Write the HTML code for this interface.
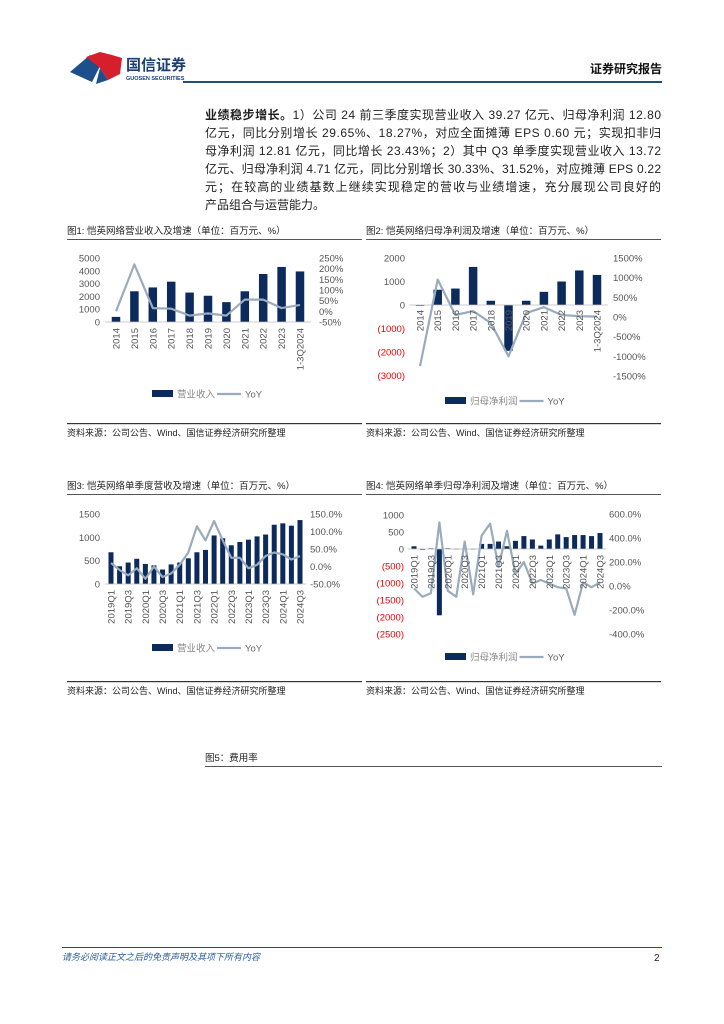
<!DOCTYPE html>
<html><head><meta charset="utf-8">
<style>
html,body{margin:0;padding:0;background:#fff;}
svg{display:block;font-family:"Liberation Sans","Noto Sans CJK SC",sans-serif;}
</style></head>
<body>
<svg id="s" width="724" height="1024" viewBox="0 0 724 1024" xmlns="http://www.w3.org/2000/svg">
<polygon points="70,72 90,55 100,66 92,82" fill="#1c4f8c"/>
<polygon points="86,57 100,52 112,55 122,58 120,74 108,80 100,68" fill="#d61f2c"/>
<polygon points="100,68 108,80 96,84" fill="#1c4f8c"/>
<text x="126" y="70" font-size="15" font-weight="bold" fill="#1c3f73">国信证券</text>
<text x="126" y="80" font-size="5.5" font-weight="bold" fill="#1c3f73">GUOSEN SECURITIES</text>
<text x="662" y="73" font-size="12" font-weight="bold" fill="#111" text-anchor="end">证券研究报告</text>
<rect x="183" y="81" width="479" height="2" fill="#1f4e79"/>
<g font-size="12" fill="#222">
<text x="205" y="119" textLength="456" lengthAdjust="spacing"><tspan font-weight="bold">业绩稳步增长。</tspan>1）公司 24 前三季度实现营业收入 39.27 亿元、归母净利润 12.80</text>
<text x="205" y="137" textLength="456" lengthAdjust="spacing">亿元，同比分别增长 29.65%、18.27%，对应全面摊薄 EPS 0.60 元；实现扣非归</text>
<text x="205" y="155" textLength="456" lengthAdjust="spacing">母净利润 12.81 亿元，同比增长 23.43%；2）其中 Q3 单季度实现营业收入 13.72</text>
<text x="205" y="173" textLength="456" lengthAdjust="spacing">亿元、归母净利润 4.71 亿元，同比分别增长 30.33%、31.52%，对应摊薄 EPS 0.22</text>
<text x="205" y="191" textLength="456" lengthAdjust="spacing">元；在较高的业绩基数上继续实现稳定的营收与业绩增速，充分展现公司良好的</text>
<text x="205" y="209">产品组合与运营能力。</text>
</g>
<g id="charts"></g>
<text x="205" y="761" font-size="9.5" fill="#222">图5：费用率</text>
<rect x="205" y="766" width="457" height="1" fill="#555"/>
<rect x="62" y="947" width="600" height="1" fill="#1f4e79"/>
<text x="62" y="960" font-size="9" font-style="italic" fill="#2b5aa0">请务必阅读正文之后的免责声明及其项下所有内容</text>
<text x="654" y="961" font-size="10" fill="#222">2</text>
</svg>
<script>
var NS="http://www.w3.org/2000/svg",G=document.getElementById("charts");
function el(t,a,txt){var e=document.createElementNS(NS,t);for(var k in a)e.setAttribute(k,a[k]);if(txt!=null)e.textContent=txt;G.appendChild(e);return e;}
var BAR="#0c2a5b",LN="#9aabbd";
function chart(c){
 el("text",{x:c.x0,y:c.ty,"font-size":9.5,fill:"#222"},c.title);
 el("rect",{x:c.x0,y:c.ty+5,width:295,height:1,fill:"#555"});
 c.lt.forEach(function(v){var y=c.ly(v);var neg=v<0;
  el("text",{x:c.lx,y:y+3.5,"font-size":9.5,fill:neg?"#e00":"#555","text-anchor":"end"},neg?"("+(-v)+")":String(v));});
 c.rt.forEach(function(v){el("text",{x:c.rx,y:c.ry(v)+3.5,"font-size":9.5,fill:"#555"},c.rf(v));});
 var n=c.bars.length,sp=(c.xe-c.xs)/(n-1),z=c.ly(0);
 c.bars.forEach(function(v,i){var x=c.xs+i*sp,y=c.ly(v);
  el("rect",{x:x-c.bw/2,y:Math.min(y,z),width:c.bw,height:Math.max(Math.abs(y-z),0.8),fill:BAR});});
 el("line",{x1:c.xs-sp/2-2,x2:c.xe+sp/2+2,y1:z,y2:z,stroke:"#bbb","stroke-width":0.8});
 var p=c.yoy.map(function(v,i){return (c.xs+i*sp).toFixed(1)+","+c.ry(v).toFixed(1)}).join(" ");
 el("polyline",{points:p,fill:"none",stroke:LN,"stroke-width":2.2,"stroke-linejoin":"round"});
 c.labs.forEach(function(l,i){ if(!l)return; var x=c.xs+i*sp+3.5;
  el("text",{x:x,y:c.lbY,"font-size":9.5,fill:"#555","text-anchor":"end",transform:"rotate(-90 "+x+" "+c.lbY+")"},l);});
 el("rect",{x:c.lgx,y:c.lgy-4,width:21,height:7,fill:BAR});
 el("text",{x:c.lgx+25,y:c.lgy+3.5,"font-size":9.5,fill:"#888"},c.lgname);
 var w=c.lgname.length*9.5+27;
 el("line",{x1:c.lgx+w,x2:c.lgx+w+24,y1:c.lgy,y2:c.lgy,stroke:LN,"stroke-width":2.2});
 el("text",{x:c.lgx+w+28,y:c.lgy+3.5,"font-size":9.5,fill:"#666"},"YoY");
 el("rect",{x:c.x0,y:c.sy,width:295,height:1.2,fill:"#333"});
 el("text",{x:c.x0,y:c.sy+13,"font-size":9,fill:"#222"},"资料来源：公司公告、Wind、国信证券经济研究所整理");
}
var yrs=["2014","2015","2016","2017","2018","2019","2020","2021","2022","2023","1-3Q2024"];
chart({x0:67,ty:234,title:"图1: 恺英网络营业收入及增速（单位：百万元、%）",
 lt:[0,1000,2000,3000,4000,5000],ly:function(v){return 322-v*0.0128},lx:100,
 rt:[250,200,150,100,50,0,-50],ry:function(v){return 311.3-v*64/300},rx:319,rf:function(v){return v+"%"},
 bars:[400,2400,2700,3150,2300,2050,1550,2400,3750,4300,3950],
 yoy:[0,220,15,12,-20,-10,-20,55,55,15,30],xs:116,xe:300,bw:8.5,labs:yrs,lbY:328,
 lgx:152,lgy:394,lgname:"营业收入",sy:423});
chart({x0:366,ty:234,title:"图2: 恺英网络归母净利润及增速（单位：百万元、%）",
 lt:[2000,1000,0,-1000,-2000,-3000],ly:function(v){return 305-v*0.0235},lx:405,
 rt:[1500,1000,500,0,-500,-1000,-1500],ry:function(v){return 317-v*118/3000},rx:613,rf:function(v){return v+"%"},
 bars:[-30,650,700,1620,180,-1950,180,560,1000,1470,1280],
 yoy:[-1250,950,50,150,-150,-1000,100,250,50,20,10],xs:420,xe:597,bw:8.5,labs:yrs,lbY:310,
 lgx:445,lgy:401,lgname:"归母净利润",sy:423});
var q=[];for(var y=2019;y<=2024;y++)for(var k=1;k<=4;k++){if(y==2024&&k==4)break;q.push(k%2==1?y+"Q"+k:"");}
chart({x0:67,ty:489,title:"图3: 恺英网络单季度营收及增速（单位：百万元、%）",
 lt:[0,500,1000,1500],ly:function(v){return 584-v*70/1500},lx:100,
 rt:[150,100,50,0,-50],ry:function(v){return 566.5-v*70/200},rx:310,rf:function(v){return v.toFixed(1)+"%"},
 bars:[680,380,460,540,430,400,310,420,460,550,680,730,1040,980,830,900,950,1020,1060,1270,1300,1250,1370],
 yoy:[10,-10,-25,-5,-35,0,-30,-20,5,40,115,75,130,75,25,25,-5,5,30,40,35,20,30],xs:111,xe:300,bw:5,labs:q,lbY:590,
 lgx:152,lgy:648,lgname:"营业收入",sy:681});
chart({x0:366,ty:489,title:"图4: 恺英网络单季归母净利润及增速（单位：百万元、%）",
 lt:[1000,500,0,-500,-1000,-1500,-2000,-2500],ly:function(v){return 549-v*0.034},lx:404,
 rt:[600,400,200,0,-200,-400],ry:function(v){return 586-v*0.12},rx:609,rf:function(v){return v.toFixed(1)+"%"},
 bars:[80,-10,20,-1950,20,10,10,10,150,150,220,80,240,380,280,100,280,430,350,410,410,380,470],
 yoy:[-20,-90,-60,530,-40,-90,370,-70,420,520,160,460,100,200,20,50,20,-10,-20,-240,30,-10,30],xs:414,xe:600,bw:5,labs:q,lbY:555,
 lgx:445,lgy:657,lgname:"归母净利润",sy:681});
</script>
</body></html>
